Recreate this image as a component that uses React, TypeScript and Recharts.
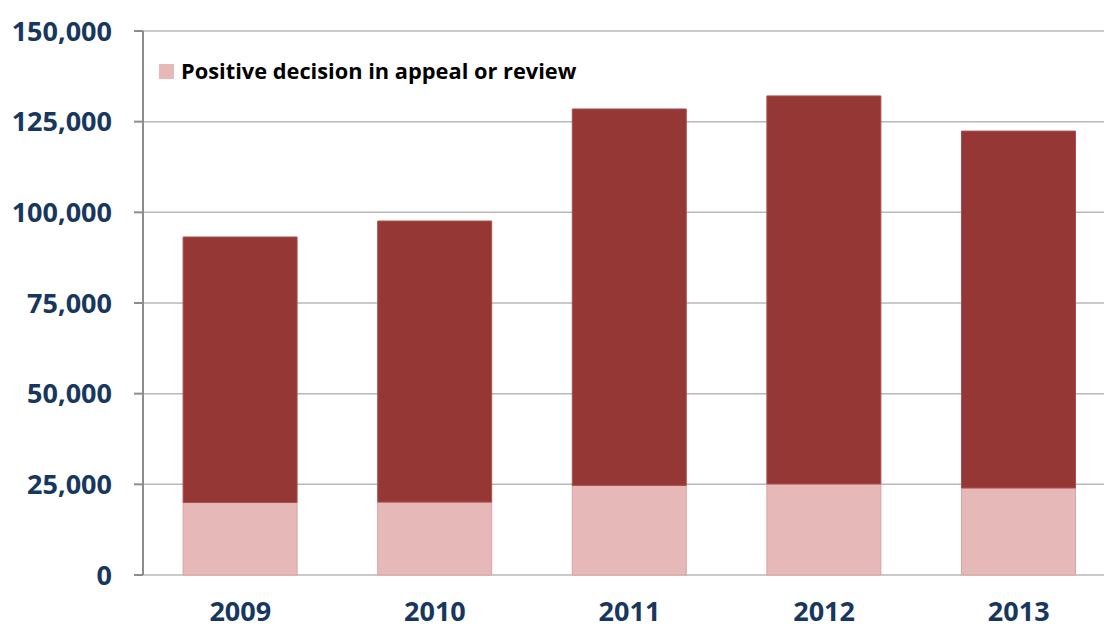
import React from 'react';
import { BarChart, Bar, XAxis, YAxis, CartesianGrid, Legend } from 'recharts';

const years = ['2009', '2010', '2011', '2012', '2013'];
// bottom segment (the only one in the legend) and the rest stacked on top
const positiveAppeal = [20000, 20100, 24700, 25100, 24000];
const otherDecisions = [73200, 77500, 103800, 107000, 98400];
const yTicks = [0, 25000, 50000, 75000, 100000, 125000, 150000];

const data = years.map((year, i) => ({
  year,
  positive: positiveAppeal[i],
  other: otherDecisions[i],
}));

// category boundaries for the x tick marks
const edgeTicks = [...years.map((_, i) => i), years.length];

const FONT = "'Open Sans', sans-serif";
const NAVY = '#17375e';
const AXIS = '#8c8c8c';

const YTick = ({ x, y, payload }: any) => (
  <text x={x} y={y} dy={9.7} textAnchor="end" fill={NAVY} fontFamily={FONT} fontWeight={700} fontSize={27}>
    {Number(payload.value).toLocaleString('en-US')}
  </text>
);

const XTick = ({ x, y, payload }: any) => (
  <text x={x} y={y} dy={46} textAnchor="middle" fill={NAVY} fontFamily={FONT} fontWeight={700} fontSize={27}>
    {payload.value}
  </text>
);

const LegendContent = (props: any) => {
  const items = (props.payload || []).filter((p: any) => p.type !== 'none');
  return (
    <div style={{ display: 'flex', alignItems: 'center' }}>
      {items.map((item: any) => (
        <div key={item.value} style={{ display: 'flex', alignItems: 'center' }}>
          <span style={{ width: 15, height: 15, background: item.color, marginRight: 7, display: 'inline-block' }} />
          <span style={{ fontFamily: FONT, fontWeight: 700, fontSize: 21.8, color: '#000', lineHeight: 1.2 }}>
            {item.value}
          </span>
        </div>
      ))}
    </div>
  );
};

export default function App() {
  return (
    <div
      style={{
        position: 'absolute',
        left: 0,
        top: 0,
        width: 1104,
        height: 628,
        overflow: 'hidden',
        background: '#fff',
      }}
    >
      <BarChart
        width={1130}
        height={628}
        data={data}
        margin={{ top: 31, right: 14, bottom: 0, left: 0 }}
        barCategoryGap="20.6%"
      >
        <CartesianGrid vertical={false} stroke="#b8b8b8" strokeWidth={1.5} />
        <XAxis
          xAxisId="edges"
          type="number"
          domain={[0, years.length]}
          ticks={edgeTicks}
          allowDataOverflow
          tick={false}
          tickSize={10}
          height={0}
          axisLine={{ stroke: AXIS, strokeWidth: 2 }}
          tickLine={{ stroke: AXIS, strokeWidth: 2 }}
        />
        <XAxis
          dataKey="year"
          interval={0}
          height={53}
          tickSize={0}
          tickMargin={0}
          axisLine={false}
          tickLine={false}
          tick={<XTick />}
        />
        <YAxis
          width={143}
          domain={[0, 150000]}
          ticks={yTicks}
          interval={0}
          tickSize={9}
          tickMargin={22}
          axisLine={{ stroke: AXIS, strokeWidth: 2 }}
          tickLine={{ stroke: AXIS, strokeWidth: 2 }}
          tick={<YTick />}
        />
        <Legend
          layout="horizontal"
          align="center"
          verticalAlign="middle"
          content={<LegendContent />}
          wrapperStyle={{ position: 'absolute', top: 58, left: 159, width: 'auto', height: 'auto' }}
        />
        <Bar
          dataKey="positive"
          name="Positive decision in appeal or review"
          stackId="a"
          fill="#e6b9b8"
          stroke="#d9a3a2"
          strokeWidth={1}
          isAnimationActive={false}
        />
        <Bar
          dataKey="other"
          name="Other"
          stackId="a"
          fill="#953735"
          stroke="#a8504e"
          strokeWidth={1}
          legendType="none"
          isAnimationActive={false}
        />
      </BarChart>
    </div>
  );
}
